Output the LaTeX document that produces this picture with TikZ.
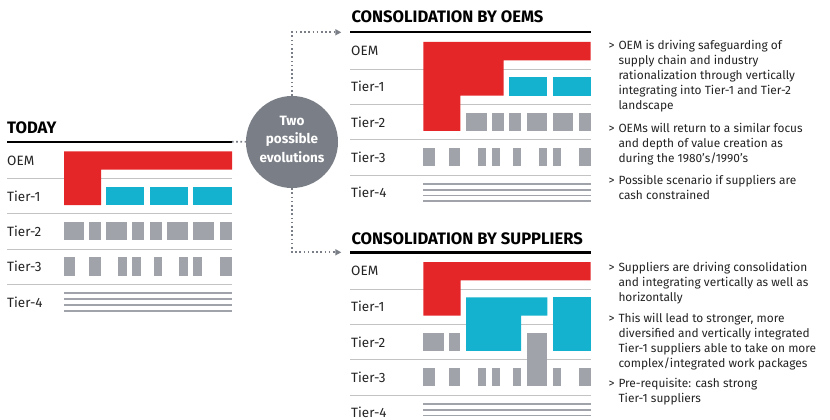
\documentclass[tikz,border=0pt]{standalone}
\usepackage{fontspec}
\setmainfont{Fira Sans}
\usetikzlibrary{arrows.meta}
\definecolor{oemred}{RGB}{229,38,40}
\definecolor{tiercyan}{RGB}{20,178,206}
\definecolor{boxgray}{RGB}{160,164,170}
\definecolor{evogray}{RGB}{122,126,134}
\definecolor{sepgray}{RGB}{195,195,195}
\definecolor{inkgray}{RGB}{35,35,35}

\tikzset{
  panelline/.style={line width=2.4pt, black},
  seprule/.style={line width=0.9pt, sepgray},
  tierlabel/.style={anchor=west, inner sep=0pt, text=inkgray, font=\fontsize{13.5}{15}\selectfont},
  paneltitle/.style={anchor=base west, inner sep=0pt, text=black, font=\fontsize{16.6}{18}\selectfont\bfseries},
  oembar/.style={fill=oemred},
  tonebox/.style={fill=tiercyan},
  graybox/.style={fill=boxgray},
  tfourline/.style={line width=1.8pt, boxgray},
  bulletmark/.style={anchor=base west, inner sep=0pt, text=inkgray, font=\fontsize{11.9}{15}\selectfont},
  bullettext/.style={anchor=base west, inner sep=0pt, align=left, text=inkgray, font=\fontsize{11.9}{15}\selectfont},
  dotlink/.style={evogray, line width=1.8pt, dash pattern=on 1.6pt off 2.6pt},
}

\begin{document}
\begin{tikzpicture}[x=1pt, y=-1pt]
  \useasboundingbox (0,0) rectangle (830,420);

  % today
  \begin{scope}[shift={(64,141.7)}]
    \foreach \y in {36.8,72.1,107.4,142.7} \draw[seprule] (-57,\y) -- (168,\y);
    \draw[panelline] (-57,0) -- (168,0);
    \coordinate (today-end) at (168,0);
    \node[paneltitle] (today-title) at (-57,-8.4) {TODAY};
    \foreach \t [count=\i from 0] in {OEM,Tier-1,Tier-2,Tier-3,Tier-4}
      \node[tierlabel] (today-\i) at (-57,{19+35.3*\i}) {\t};
    \fill[oembar] (0,9.7) -- (168,9.7) -- (168,28) -- (37,28) -- (37,63.3) -- (0,63.3) -- cycle;
    \foreach \a/\b in {42.3/80.3,86/123.7,129.3/167.7}
      \fill[tonebox] (\a,45) rectangle (\b,63.3);
    \foreach \a/\b in {0/20.3,25.3/37,42.3/63,68.3/80.3,86/98,103.3/123.7,129.3/150,155.7/167.7}
      \fill[graybox] (\a,80.3) rectangle (\b,98.6);
    \foreach \a/\b in {0/11.3,25.3/37,54.3/63,68.3/77,90/98,115.3/123.7,129.3/137.7,155.7/167.7}
      \fill[graybox] (\a,115.6) rectangle (\b,133.9);
    \foreach \y in {151.5,157.3,163.1,168.9} \draw[tfourline] (0,\y) -- (168,\y);
  \end{scope}

  % consolidation by oems
  \begin{scope}[shift={(423.3,32.3)}]
    \foreach \y in {36.8,72.1,107.4,142.7} \draw[seprule] (-73,\y) -- (167.4,\y);
    \draw[panelline] (-73,0) -- (167.4,0);
    \coordinate (oems-in) at (-82,0);
    \node[paneltitle] (oems-title) at (-72,-9.3) {CONSOLIDATION BY OEMS};
    \foreach \t [count=\i from 0] in {OEM,Tier-1,Tier-2,Tier-3,Tier-4}
      \node[tierlabel] (oems-\i) at (-72.3,{19+35.3*\i}) {\t};
    \fill[oembar] (0,9.7) -- (167.4,9.7) -- (167.4,28) -- (80.3,28) -- (80.3,63.3)
      -- (37,63.3) -- (37,98.6) -- (0,98.6) -- cycle;
    \foreach \a/\b in {86/124,129.4/167.4}
      \fill[tonebox] (\a,45) rectangle (\b,63.3);
    \foreach \a/\b in {42.7/63.4,68.7/80.4,86/97.7,103.4/124,129.4/150,155.4/167.4}
      \fill[graybox] (\a,80.3) rectangle (\b,98.6);
    \foreach \a/\b in {0/11.7,25.3/37,54.7/62.7,68.7/76.7,89.7/97.7,115.7/124,129.4/137.4,155.4/167.4}
      \fill[graybox] (\a,115.6) rectangle (\b,133.9);
    \foreach \y in {151.5,157.3,163.1,168.9} \draw[tfourline] (0,\y) -- (167.4,\y);
  \end{scope}

  % consolidation by suppliers
  \begin{scope}[shift={(423.3,252.3)}]
    \foreach \y in {36.8,72.1,107.4,142.7} \draw[seprule] (-73,\y) -- (167.4,\y);
    \draw[panelline] (-73,0) -- (167.4,0);
    \coordinate (sup-in) at (-82,0);
    \node[paneltitle] (sup-title) at (-72,-8.3) {CONSOLIDATION BY SUPPLIERS};
    \foreach \t [count=\i from 0] in {OEM,Tier-1,Tier-2,Tier-3,Tier-4}
      \node[tierlabel] (sup-\i) at (-72.3,{19+35.3*\i}) {\t};
    \fill[oembar] (0,9.7) -- (167.4,9.7) -- (167.4,28) -- (37.4,28) -- (37.4,63.3) -- (0,63.3) -- cycle;
    \fill[tonebox] (42.7,45) -- (124,45) -- (124,63.3) -- (97.7,63.3) -- (97.7,98.6) -- (42.7,98.6) -- cycle;
    \fill[tonebox] (129.4,45) rectangle (167.4,98.6);
    \foreach \a/\b in {0/20.4,25.3/37}
      \fill[graybox] (\a,80.3) rectangle (\b,98.6);
    \foreach \a/\b in {0/11.7,25.3/37,54.7/62.7,68.7/76.7,89.7/97.7,129.4/137.4,155.4/167.4}
      \fill[graybox] (\a,115.6) rectangle (\b,133.9);
    \fill[graybox] (103.4,80.3) rectangle (124,133.9);
    \foreach \y in {151.5,157.3,163.1,168.9} \draw[tfourline] (0,\y) -- (167.4,\y);
  \end{scope}

  % the fork
  \node[circle, fill=evogray, minimum size=92pt, inner sep=0pt,
    label={[text=white, align=center, yshift=3pt,
      font=\fontsize{13.5}{18.5}\selectfont\bfseries]center:Two\\possible\\evolutions}] (evo) at (292,142) {};
  \draw[dotlink] (today-end) -- (evo);
  \draw[dotlink, -{Triangle[length=6pt, width=6pt]}] (evo.north) |- (oems-in);
  \draw[dotlink, -{Triangle[length=6pt, width=6pt]}] (evo.south) |- (sup-in);

  % notes, oems
  \node[bulletmark] (oems-m1) at (608.3,49.4) {>};
  \node[bullettext] (oems-n1) at (618.3,109.4) {OEM is driving safeguarding of\\supply chain and industry\\rationalization through vertically\\integrating into Tier-1 and Tier-2\\landscape};
  \node[bulletmark] (oems-m2) at (608.3,132.7) {>};
  \node[bullettext] (oems-n2) at (618.3,162.7) {OEMs will return to a similar focus\\and depth of value creation as\\during the 1980's/1990's};
  \node[bulletmark] (oems-m3) at (608.3,184.4) {>};
  \node[bullettext] (oems-n3) at (618.3,199.4) {Possible scenario if suppliers are\\cash constrained};

  % notes, suppliers
  \node[bulletmark] (sup-m1) at (608.3,271) {>};
  \node[bullettext] (sup-n1) at (618.3,301) {Suppliers are driving consolidation\\and integrating vertically as well as\\horizontally};
  \node[bulletmark] (sup-m2) at (608.3,322.7) {>};
  \node[bullettext] (sup-n2) at (618.3,367.7) {This will lead to stronger, more\\diversified and vertically integrated\\Tier-1 suppliers able to take on more\\complex/integrated work packages};
  \node[bulletmark] (sup-m3) at (608.3,387.7) {>};
  \node[bullettext] (sup-n3) at (618.3,402.7) {Pre-requisite: cash strong\\Tier-1 suppliers};
\end{tikzpicture}
\end{document}
